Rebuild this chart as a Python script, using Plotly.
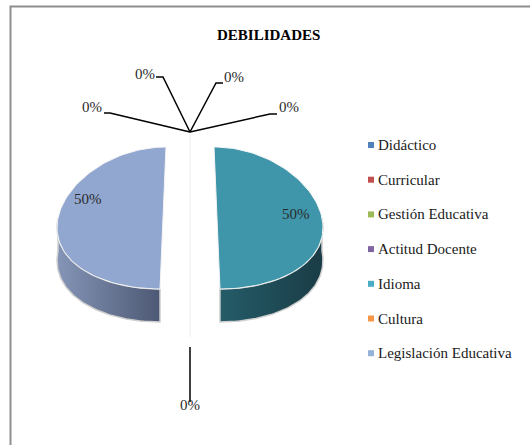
import math
import plotly.graph_objects as go

# ---------------- data ----------------
categories = ["Didáctico", "Curricular", "Gestión Educativa", "Actitud Docente",
              "Idioma", "Cultura", "Legislación Educativa"]
values = [0, 0, 0, 0, 50, 0, 50]
legend_colors = ["#4F81BD", "#C0504D", "#9BBB59", "#8064A2", "#4BACC6", "#F79646", "#95B3D7"]
top_colors = ["#4F81BD", "#C0504D", "#9BBB59", "#8064A2", "#3F96AB", "#F79646", "#91A7D0"]
side_light = ["#3E6797", "#9A403D", "#7C9647", "#665082", "#245C68", "#C57838", "#8595B7"]
side_dark = ["#2A4566", "#672B29", "#536430", "#443658", "#1A3C46", "#834F25", "#4D5974"]
title_text = "DEBILIDADES"

# ---------------- layout constants (pixel space) ----------------
W, H = 530, 445
CX, CY = 190, 218          # pie centre
A, B = 105, 71             # ellipse semi-axes
DEPTH = 33                 # pie thickness
EXPL_X, EXPL_Y = 27, 15    # explosion
PERSP = 0.11               # perspective widening toward viewer
SERIF = "Liberation Serif"

# label placement for each category (text centre) and leader bends
label_text_pos = {0: (92, 107), 1: (145, 74), 2: (234, 77), 3: (289, 107),
                  4: (296, 214), 5: (190, 405), 6: (88, 199)}
leader_bends = {0: [(110, 113), (104, 113)], 1: [(163, 77), (156, 77)],
                2: [(216, 83), (223, 83)], 3: [(270, 114), (277, 114)]}
bottom_leader = (10, 55)   # gap below slice, line length

legend_x, legend_y0, legend_dy = 371, 145, 34.7


def proj(cx, cy, theta_deg, r=1.0, z=0.0):
    t = math.radians(theta_deg)
    x = cx + r * A * math.sin(t)
    y = cy - r * B * math.cos(t)
    s = 1 + PERSP * (y - CY) / B
    return CX + (x - CX) * s, y + z


def arc(cx, cy, t0, t1, z=0.0, n=80):
    pts = []
    for i in range(n + 1):
        th = t0 + (t1 - t0) * i / n
        pts.append(proj(cx, cy, th, 1.0, z))
    return pts


fig = go.Figure()

total = sum(values)
start = 0.0
slices = []
for i, v in enumerate(values):
    t0 = start / total * 360
    t1 = (start + v) / total * 360
    mid = (t0 + t1) / 2
    cx = CX + EXPL_X * math.sin(math.radians(mid))
    cy = CY - EXPL_Y * math.cos(math.radians(mid))
    slices.append((i, v, t0, t1, mid, cx, cy))
    start += v

# sides
for i, v, t0, t1, mid, cx, cy in slices:
    if v <= 0:
        continue
    a0, a1 = max(t0, 90), min(t1, 270)
    if a1 <= a0:
        continue
    upper = arc(cx, cy, a0, a1)
    lower = arc(cx, cy, a1, a0, z=DEPTH)
    pts = upper + lower + [upper[0]]
    fig.add_trace(go.Scatter(
        x=[p[0] for p in pts], y=[p[1] for p in pts], mode="lines",
        fill="toself", line=dict(color="#CFCFCF", width=1.5),
        fillgradient=dict(type="horizontal",
                          colorscale=[[0, side_light[i]], [1, side_dark[i]]]),
        hoverinfo="skip", showlegend=False))

# top faces
for i, v, t0, t1, mid, cx, cy in slices:
    if v <= 0:
        continue
    c = proj(cx, cy, 0, r=0)
    pts = [c] + arc(cx, cy, t0, t1) + [c]
    fig.add_trace(go.Scatter(
        x=[p[0] for p in pts], y=[p[1] for p in pts], mode="lines",
        fill="toself", fillcolor=top_colors[i], line=dict(color="#F4F4F4", width=1),
        hoverinfo="skip", showlegend=False))

# faint seam of the zero slices
top_anchor = proj(CX, CY - EXPL_Y, 0)
bot_anchor = proj(CX, CY + EXPL_Y, 180, z=DEPTH)
fig.add_trace(go.Scatter(x=[top_anchor[0], bot_anchor[0]], y=[top_anchor[1], bot_anchor[1]],
                         mode="lines", line=dict(color="#EDEDED", width=1),
                         hoverinfo="skip", showlegend=False))

# leader lines for zero slices
for i, v, t0, t1, mid, cx, cy in slices:
    if v != 0:
        continue
    if i in leader_bends:
        anchor = proj(cx, cy, mid)
        pts = [anchor] + leader_bends[i]
    else:
        anchor = proj(cx, cy, mid, z=DEPTH)
        pts = [(anchor[0], anchor[1] + bottom_leader[0]),
               (anchor[0], anchor[1] + bottom_leader[0] + bottom_leader[1])]
    fig.add_trace(go.Scatter(x=[p[0] for p in pts], y=[p[1] for p in pts], mode="lines",
                             line=dict(color="#000000", width=1.5),
                             hoverinfo="skip", showlegend=False))

# data labels
for i, v in enumerate(values):
    fig.add_annotation(x=label_text_pos[i][0], y=label_text_pos[i][1],
                       text=f"{round(v / total * 100)}%", showarrow=False,
                       xanchor="center", yanchor="middle",
                       font=dict(family=SERIF, size=15, color="#2A2A2A"))

# legend: markers + labels
legend_ys = [legend_y0 + k * legend_dy for k in range(len(categories))]
fig.add_trace(go.Scatter(
    x=[legend_x] * len(categories), y=legend_ys, mode="markers",
    marker=dict(symbol="square", size=6, color=legend_colors, line=dict(width=0)),
    hoverinfo="skip", showlegend=False))
for k, name in enumerate(categories):
    fig.add_annotation(x=legend_x + 5, y=legend_ys[k], text=name, showarrow=False,
                       xanchor="left", yanchor="middle",
                       font=dict(family=SERIF, size=15, color="#1A1A1A"))

fig.add_annotation(x=268, y=35, text=title_text, showarrow=False,
                   font=dict(family=SERIF, size=15, color="#000000", weight="bold"),
                   xanchor="center", yanchor="middle")

fig.add_shape(type="rect", x0=10.5, y0=6.5, x1=560, y1=480,
              line=dict(color="#8E8E8E", width=2), layer="above")

fig.update_layout(
    width=W, height=H, margin=dict(l=0, r=0, t=0, b=0),
    paper_bgcolor="white", plot_bgcolor="white",
    font=dict(family=SERIF),
    xaxis=dict(range=[0, W], visible=False, fixedrange=True),
    yaxis=dict(range=[H, 0], visible=False, fixedrange=True),
    showlegend=False,
)

fig.write_html("out.html")
